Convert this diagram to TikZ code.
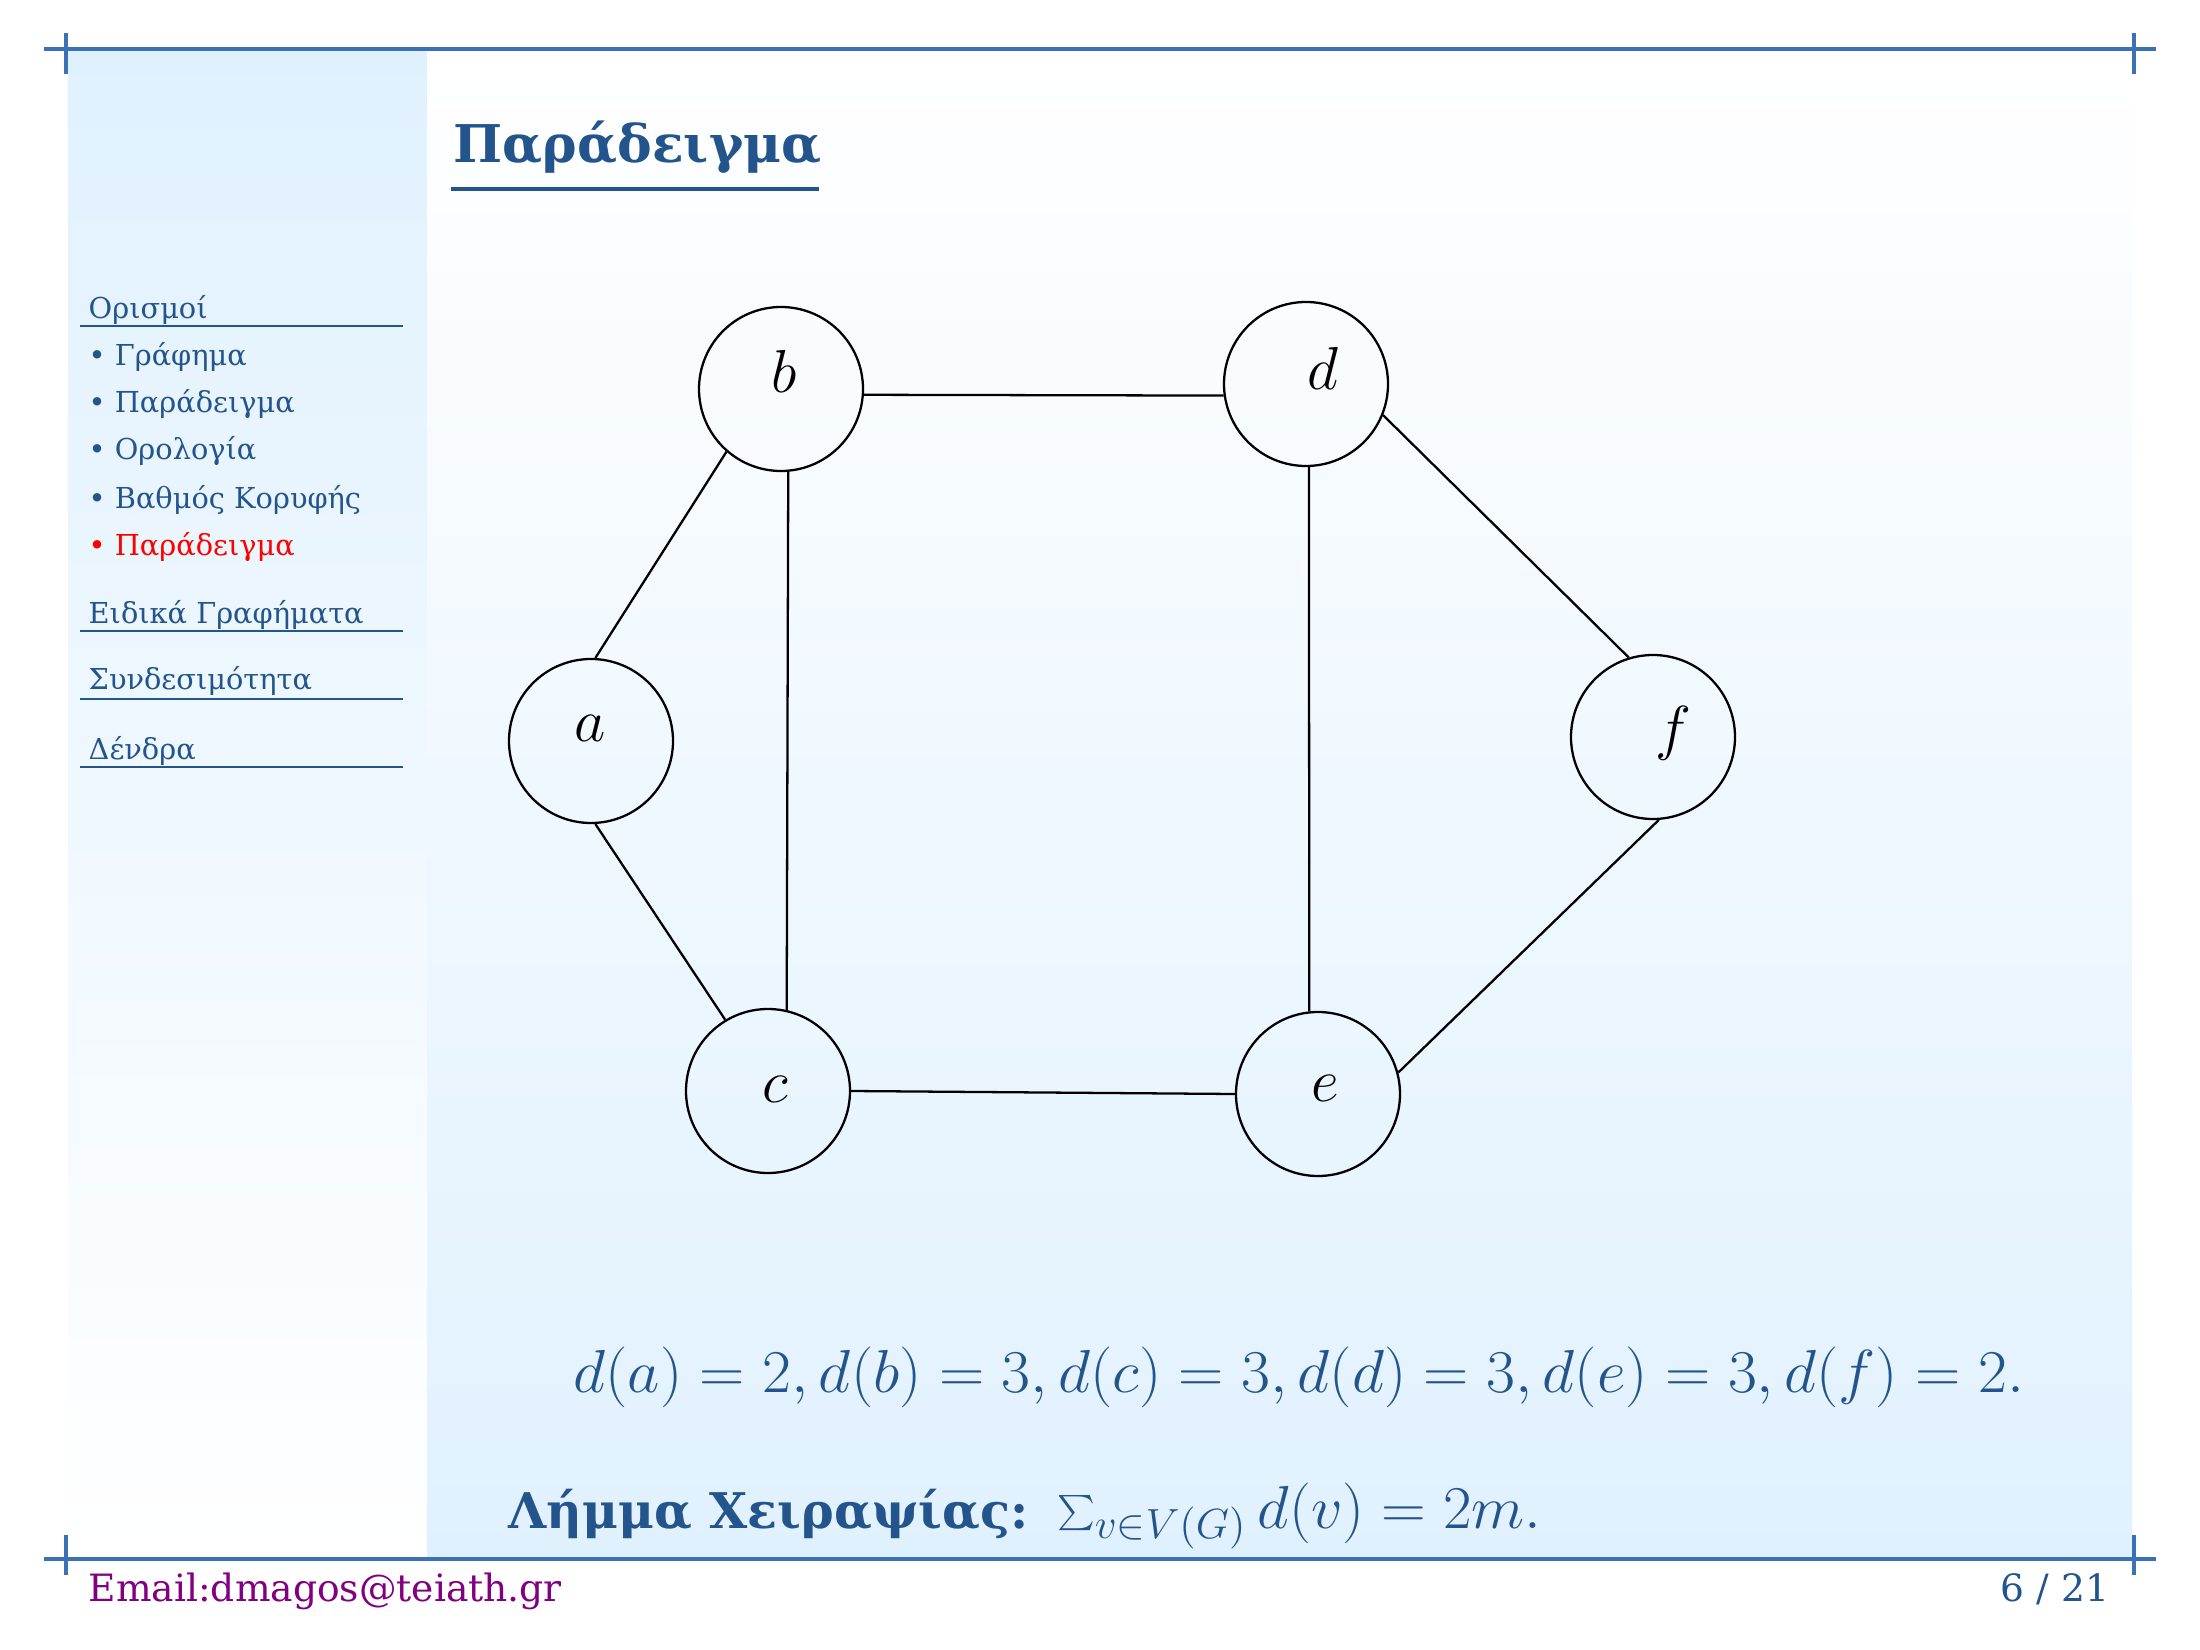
\documentclass[tikz,border=0pt]{standalone}
\usepackage{graphicx}
\usepackage{fontspec}
\setmainfont{DejaVu Serif}
\usetikzlibrary{positioning}

\definecolor{structblue}{RGB}{35,85,140}
\definecolor{ruleblue}{RGB}{59,113,181}
\definecolor{paleblue}{RGB}{224,241,254}
\definecolor{mailpurple}{RGB}{128,0,128}

\begin{document}
\begin{tikzpicture}[x=0.1mm, y=-0.1mm,
vertex/.style={draw,
circle,
minimum size=16.4mm,
inner sep=0pt,
line width=0.65pt},
vlabel/.style={font=\fontsize{16.5}{20}\selectfont},
edge/.style={line width=0.65pt},
navsec/.style={anchor=base west, inner sep=0pt, text=structblue, font=\fontsize{8.2}{10}\selectfont},
navline/.style={structblue, line width=0.28mm},
framerule/.style={ruleblue, line width=0.45mm}
]

\useasboundingbox (0,0) rectangle (2200,1650);

% backgrounds
\shade[top color=paleblue, bottom color=white] (68,52) rectangle (427,1557);
\shade[top color=white, bottom color=paleblue] (427,52) rectangle (2132,1557);

% frame rules
\draw[framerule] (44,49) -- (2156,49);
\draw[framerule] (66,33) -- (66,74);
\draw[framerule] (2134,33) -- (2134,74);
\draw[framerule] (44,1559) -- (2156,1559);
\draw[framerule] (66,1535) -- (66,1575);
\draw[framerule] (2134,1535) -- (2134,1575);

% title
\node[anchor=base west, inner sep=0pt, text=structblue, font=\bfseries\fontsize{14.8}{18}\selectfont] (title) at (453,163) {Παράδειγμα};
\draw[structblue, line width=0.4mm] (451,189) -- (819,189);

% sidebar
\node[navsec] (defs) at (88,319) {Ορισμοί};
\draw[navline] (80,326) -- (403,326);
\node[navsec] (graph) at (88,366) {• Γράφημα};
\node[navsec] (example) at (88,413) {• Παράδειγμα};
\node[navsec] (terms) at (88,460) {• Ορολογία};
\node[navsec] (degree) at (88,509) {• Βαθμός Κορυφής};
\node[navsec, text=red] (current) at (88,555) {• Παράδειγμα};
\node[navsec] (special) at (88,624) {Ειδικά Γραφήματα};
\draw[navline] (80,631) -- (403,631);
\node[navsec] (connect) at (88,690) {Συνδεσιμότητα};
\draw[navline] (80,699) -- (403,699);
\node[navsec] (trees) at (88,759) {Δένδρα};
\draw[navline] (80,767) -- (403,767);

% graph
\node[vertex, label={[vlabel, xshift=-0.1mm, yshift=1.3mm]center:$a$}] (a) at (591,741) {};
\node[vertex, label={[vlabel, xshift=0.3mm, yshift=1.8mm]center:$b$}] (b) at (781,389) {};
\node[vertex, label={[vlabel, xshift=0.7mm, yshift=0.2mm]center:$c$}] (c) at (768,1091) {};
\node[vertex, label={[vlabel, xshift=1.7mm, yshift=1.6mm]center:$d$}] (d) at (1306,384) {};
\node[vertex, label={[vlabel, xshift=0.7mm, yshift=0.6mm]center:$e$}] (e) at (1318,1094) {};
\node[vertex, label={[vlabel, xshift=2.0mm, yshift=0.4mm]center:$f$}] (f) at (1653,737) {};

\draw[edge] (b.-4) -- (d.188);
\draw[edge] (b.-85) -- (c.77);
\draw[edge] (a.87) -- (b.-131);
\draw[edge] (a.-87) -- (c.121);
\draw[edge] (d.-88) -- (e.96);
\draw[edge] (d.-22) -- (f.107);
\draw[edge] (f.-86) -- (e.15);
\draw[edge] (c.east) -- (e.west);

% degrees and lemma
\node[anchor=base west, inner sep=0pt, text=structblue, font=\fontsize{17}{21}\selectfont] (degrees) at (573,1392) {\scalebox{1.035}[1]{$d(a) = 2, d(b) = 3, d(c) = 3, d(d) = 3, d(e) = 3, d(f) = 2.$}};
\node[anchor=base west, inner sep=0pt, text=structblue, font=\fontsize{14}{17}\selectfont] (lemma) at (508,1528) {\textbf{Λήμμα Χειραψίας:}\hspace{0.8mm} {\fontsize{17}{21}\selectfont\scalebox{1.02}[1]{$\sum_{v\in V(G)} d(v) = 2m.$}}};

% footer
\node[anchor=base west, inner sep=0pt, text=mailpurple, font=\fontsize{10.7}{12}\selectfont] (mail) at (88,1601) {Email:dmagos@teiath.gr};
\node[anchor=base east, inner sep=0pt, text=structblue, font=\fontsize{10.7}{12}\selectfont] (pages) at (2110,1601) {6 / 21};

\end{tikzpicture}
\end{document}
